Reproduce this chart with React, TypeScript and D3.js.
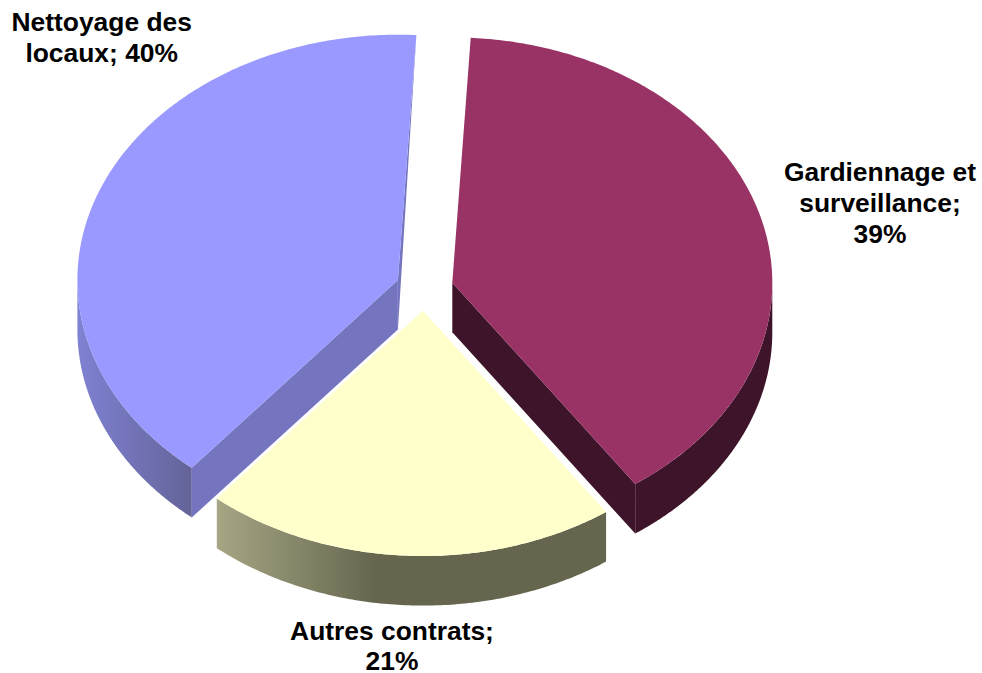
import React from "react";
import * as d3 from "d3";

const categories = ["Gardiennage et surveillance", "Autres contrats", "Nettoyage des locaux"];
const values = [39.4, 20.8, 39.8];
const labelLines = [
  ["Gardiennage et", "surveillance;", "39%"],
  ["Autres contrats;", "21%"],
  ["Nettoyage des", "locaux; 40%"],
];
const topColors = ["#993366", "#ffffcc", "#9999ff"];
const sideColors = ["#3d1429", "#66664f", "#7575bf"];
const wallStops = [
  ["#3d1429", "#3d1429"],
  ["#a6a684", "#66664f"],
  ["#7f81d2", "#646499"],
];
const wallGradX = [[636, 772], [217, 375], [78, 192]];
const apexes = [[452.3, 282.7], [422.9, 310.7], [397.9, 280]];
const radiiX = [320, 320.5, 320.5];
const labelPos = [[880, 180.7], [392, 640], [101.7, 30.7]];
const lineSteps = [31, 29.5, 31];

const W = 982, H = 673;
const RY = 245.3, DEPTH = 49.6;
const START = (3.3 * Math.PI) / 180;

export default function App() {
  const arcs = d3.pie<number>().sort(null).startAngle(START).endAngle(START + 2 * Math.PI)(values);
  const line = d3.line<number[]>();
  return (
    <svg width={W} height={H} style={{ position: "absolute", left: 0, top: 0, display: "block" }}>
      <defs>
        {wallStops.map((s, i) => (
          <linearGradient key={i} id={`wall${i}`} gradientUnits="userSpaceOnUse"
            x1={wallGradX[i][0]} x2={wallGradX[i][1]} y1={0} y2={0}>
            <stop offset="0" stopColor={s[0]} />
            <stop offset="1" stopColor={s[1]} />
          </linearGradient>
        ))}
      </defs>
      {arcs.map((a, i) => {
        const [cx, cy] = apexes[i];
        const rx = radiiX[i];
        const pt = (t: number, dy = 0): number[] => [cx + rx * Math.sin(t), cy - RY * Math.cos(t) + dy];
        const n = Math.ceil((a.endAngle - a.startAngle) * 90);
        const ts = d3.range(n + 1).map((k) => a.startAngle + ((a.endAngle - a.startAngle) * k) / n);
        const rimTop = ts.map((t) => pt(t));
        // outer wall: visible part of the rim, lower half of the ellipse
        const lo = Math.max(a.startAngle, Math.PI / 2);
        const hi = Math.min(a.endAngle, (3 * Math.PI) / 2);
        const wts = d3.range(n + 1).map((k) => lo + ((hi - lo) * k) / n);
        const wall = [...wts.map((t) => pt(t)), ...wts.slice().reverse().map((t) => pt(t, DEPTH))];
        const end = pt(a.endAngle);
        const start = pt(a.startAngle);
        const apexLow = [cx, cy + DEPTH];
        return (
          <g key={categories[i]}>
            <path d={line(wall) + "Z"} fill={`url(#wall${i})`} />
            {/* cut faces that can be seen */}
            {i === 0 && (
              <path d={line([[cx, cy], apexLow, [end[0], end[1] + DEPTH], end]) + "Z"} fill={sideColors[i]} />
            )}
            {i === 2 && (
              <>
                <path d={line([[cx, cy], apexLow, [start[0], start[1] + DEPTH], start]) + "Z"} fill={sideColors[i]} />
                <path d={line([end, [cx, cy], apexLow]) + "Z"} fill={sideColors[i]} />
              </>
            )}
            <path d={line([[cx, cy], ...rimTop]) + "Z"} fill={topColors[i]} />
          </g>
        );
      })}
      {labelLines.map((lines, i) => (
        <text key={i} textAnchor="middle" fontFamily="'Liberation Sans', Arial, sans-serif"
          fontWeight="bold" fontSize={26.4} fill="#000">
          {lines.map((l, k) => (
            <tspan key={k} x={labelPos[i][0]} y={labelPos[i][1] + k * lineSteps[i]}>{l}</tspan>
          ))}
        </text>
      ))}
    </svg>
  );
}
